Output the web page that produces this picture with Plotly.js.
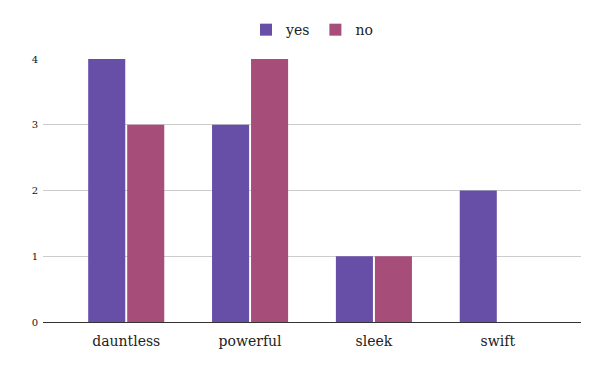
<!DOCTYPE html>
<html><head><meta charset="utf-8">
<script src="https://cdn.plot.ly/plotly-3.0.1.min.js"></script>
<style>body{margin:0}#c{width:600px;height:371px}</style>
</head><body><div id="c"></div>
<script>
const categories = ["dauntless", "powerful", "sleek", "swift"];
const yesValues = [4, 3, 1, 2];
const noValues = [3, 4, 1, 0];
const yTicks = [0, 1, 2, 3, 4];

const fontFam = "DejaVu Serif";
const data = [
  {type: "bar", name: "yes", x: categories, y: yesValues, marker: {color: "#674ea7"}},
  {type: "bar", name: "no", x: categories, y: noValues, marker: {color: "#a64d79"}}
];
const layout = {
  width: 600, height: 371,
  margin: {l: 43, r: 19, t: 59, b: 49},
  paper_bgcolor: "#fff", plot_bgcolor: "#fff",
  barmode: "group", bargap: 0.37, bargroupgap: 0.05,
  font: {family: fontFam, color: "#222"},
  showlegend: true,
  legend: {orientation: "h", x: 0.5, xanchor: "center", y: 1.11, yanchor: "middle", font: {size: 14, family: fontFam}},
  xaxis: {range: [-0.672, 3.672], tickfont: {size: 14, family: fontFam, color: "#222"}, showgrid: false, ticks: "", showline: false, zeroline: false, ticklabelstandoff: 9},
  yaxis: {range: [0, 4], tickvals: yTicks, ticktext: yTicks.map(String), tickfont: {size: 10, family: fontFam, color: "#111"}, gridcolor: "#cccccc", zeroline: true, zerolinecolor: "#333", zerolinewidth: 1.2, ticks: "", ticklen: 0, showline: false, ticklabelstandoff: 4}
};
Plotly.newPlot("c", data, layout, {displayModeBar: false});
</script></body></html>
